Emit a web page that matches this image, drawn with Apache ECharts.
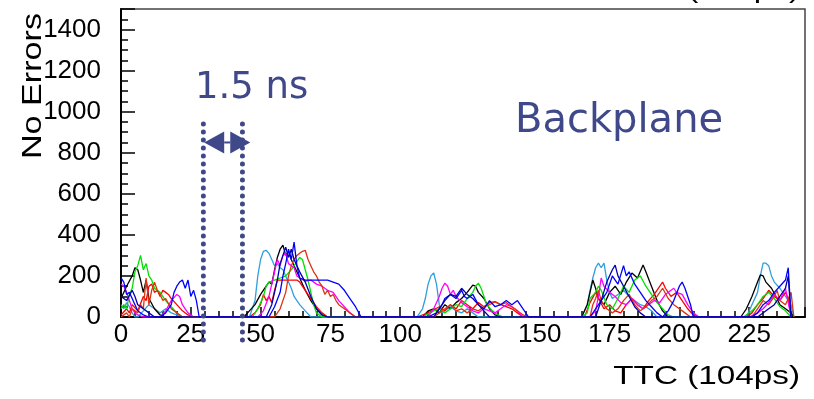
<!DOCTYPE html>
<html>
<head>
<meta charset="utf-8">
<script src="https://cdn.jsdelivr.net/npm/echarts@6/dist/echarts.min.js"></script>
<style>
  html, body { margin: 0; padding: 0; background: #fff; }
  #chart { width: 814px; height: 399px; }
</style>
</head>
<body>
<div id="chart"></div>
<script>
// TTC scan, number of errors per TTC step (104 ps), one curve per channel
const xTicks = [0, 25, 50, 75, 100, 125, 150, 175, 200, 225];
const yTicks = [0, 200, 400, 600, 800, 1000, 1200, 1400];

const runCyan = [[0,60],[1,40],[2,70],[3,50],[4,20],[5,0],[6,0],[8,30],[10,60],[12,40],[14,20],[16,40],[18,20],[20,10],[22,0],
  [46,0],[48,80],[49,200],[50,280],[51,320],[52,325],[53,310],[54,280],[55,250],[56,260],[57,240],[58,230],[59,200],[60,170],[61,140],[62,100],[63,80],[64,60],[66,30],[68,0],
  [106,0],[108,40],[109,90],[110,160],[111,200],[112,215],[113,160],[114,60],[115,20],[116,30],[118,50],[120,30],[122,20],[124,40],[126,20],[128,0],
  [165,0],[167,60],[168,130],[169,190],[170,240],[171,262],[172,240],[173,262],[174,180],[175,120],[176,90],[178,110],[180,130],[182,100],[184,80],[186,60],[188,50],[190,30],[192,0],
  [224,0],[226,60],[228,120],[229,200],[230,262],[231,262],[232,250],[233,200],[234,170],[236,140],[238,100],[240,60],[241,0]];

const runBlack = [[0,90],[2,150],[4,200],[5,240],[6,230],[7,180],[8,120],[9,180],[10,90],[12,40],[14,10],[16,0],
  [44,0],[46,30],[48,60],[50,110],[52,150],[53,170],[54,160],[55,230],[56,290],[57,330],[58,350],[59,300],[60,320],[61,280],[62,250],[63,220],[64,190],[66,130],[68,80],[70,40],[72,10],[74,0],
  [108,0],[110,30],[112,40],[114,20],[116,60],[118,40],[120,70],[122,90],[124,120],[126,155],[127,150],[128,120],[130,90],[132,40],[134,10],[136,0],
  [165,0],[167,60],[168,120],[169,180],[170,140],[171,90],[173,60],[175,120],[177,150],[179,110],[181,170],[183,214],[185,190],[187,253],[188,220],[190,150],[192,80],[194,30],[196,0],
  [222,0],[224,40],[226,100],[228,170],[229,205],[230,200],[231,170],[233,140],[235,90],[236,60],[238,40],[240,20],[241,0]];

const runRed = [[0,10],[2,40],[3,20],[4,60],[6,30],[8,100],[9,80],[10,150],[11,160],[12,120],[13,130],[14,100],[15,130],[16,120],[17,110],[18,90],[20,60],[22,30],[24,10],[26,0],
  [46,0],[48,20],[50,60],[51,110],[52,80],[53,100],[54,70],[55,130],[56,180],[58,180],[60,180],[62,180],[63,180],[64,170],[66,130],[68,90],[70,50],[72,20],[74,0],
  [106,0],[110,20],[114,50],[116,30],[118,60],[120,40],[122,80],[124,60],[126,40],[128,70],[130,50],[132,70],[134,75],[136,60],[138,50],[140,40],[142,20],[144,0],
  [166,0],[168,70],[170,120],[171,90],[173,40],[175,60],[177,30],[179,20],[181,60],[183,90],[185,60],[187,40],[189,80],[191,110],[193,150],[194,170],[195,140],[197,100],[199,120],[201,80],[203,40],[205,10],[207,0],
  [224,0],[226,20],[228,60],[230,90],[232,130],[234,100],[236,80],[238,120],[239,90],[240,0]];

const runGreen = [[0,40],[1,60],[2,40],[3,110],[4,140],[5,220],[6,250],[7,300],[8,230],[9,260],[10,200],[11,180],[12,140],[14,120],[16,80],[18,50],[20,20],[22,0],
  [47,0],[49,40],[51,100],[52,150],[53,170],[55,180],[57,190],[59,200],[61,230],[63,270],[64,290],[65,280],[66,230],[67,180],[68,120],[69,60],[70,20],[72,0],
  [108,0],[112,30],[114,40],[116,20],[118,40],[120,60],[122,50],[124,90],[126,120],[127,150],[128,165],[129,140],[130,100],[131,60],[133,30],[135,10],[137,0],
  [165,0],[167,20],[168,90],[170,120],[171,150],[172,130],[174,60],[176,40],[178,90],[180,150],[182,120],[184,180],[186,200],[188,150],[190,110],[192,70],[194,40],[196,10],[198,0],
  [223,0],[226,30],[228,60],[230,100],[232,120],[234,90],[236,50],[238,30],[240,0]];

const runMagenta = [[0,160],[1,150],[2,120],[3,80],[4,40],[5,20],[6,10],[8,0],[14,0],[16,30],[18,80],[20,110],[21,100],[22,60],[23,40],[24,20],[26,0],
  [49,0],[51,30],[53,100],[55,220],[56,280],[57,250],[58,300],[59,310],[60,260],[62,240],[63,200],[64,190],[66,175],[68,180],[70,160],[72,150],[74,130],[76,120],[78,80],[80,50],[82,20],[84,0],
  [110,0],[112,40],[114,100],[115,140],[116,165],[117,150],[118,110],[119,130],[120,100],[122,70],[124,50],[126,30],[128,20],[130,40],[132,30],[134,20],[136,40],[138,60],[140,50],[142,30],[144,0],
  [168,0],[170,30],[171,100],[172,190],[173,150],[175,120],[177,100],[179,70],[181,60],[183,90],[185,60],[187,40],[189,60],[191,80],[193,70],[195,110],[197,130],[198,140],[199,120],[201,110],[203,60],[205,20],[207,0],
  [225,0],[228,20],[230,40],[232,70],[234,110],[236,80],[238,140],[240,0]];

const runDarkRed = [[0,0],[2,20],[3,0],[4,40],[6,20],[7,60],[8,40],[9,190],[10,60],[11,130],[12,170],[13,130],[14,110],[15,80],[16,90],[18,40],[20,20],[22,0],
  [55,0],[57,40],[59,120],[60,200],[61,250],[62,280],[63,300],[64,310],[65,320],[66,325],[67,280],[68,250],[69,220],[70,200],[71,170],[72,150],[73,110],[74,130],[75,100],[76,110],[77,80],[78,60],[80,40],[82,20],[84,0],
  [112,0],[114,20],[116,40],[118,60],[120,30],[122,40],[124,20],[126,40],[128,30],[130,50],[132,60],[134,73],[136,60],[138,70],[140,50],[142,30],[144,10],[146,0],
  [168,0],[169,60],[170,90],[171,130],[172,80],[174,40],[176,20],[178,40],[180,80],[182,110],[184,60],[186,30],[188,50],[190,80],[192,100],[194,140],[196,90],[198,60],[200,40],[202,20],[204,0],
  [226,0],[228,40],[230,80],[232,60],[234,100],[235,130],[236,80],[238,60],[240,120],[241,0]];

const runBlue = [[0,190],[1,170],[2,110],[3,120],[4,90],[5,60],[6,30],[8,10],[10,0],[14,0],[16,20],[18,60],[19,120],[20,150],[21,170],[22,180],[23,140],[24,180],[25,100],[26,130],[27,80],[28,0],
  [53,0],[55,50],[57,120],[58,200],[59,260],[60,330],[61,280],[62,365],[63,250],[64,190],[66,180],[68,180],[70,180],[72,180],[74,180],[76,170],[78,160],[80,130],[82,90],[84,50],[86,0],
  [110,0],[113,20],[115,60],[116,90],[118,110],[120,90],[122,130],[123,100],[124,90],[126,110],[128,60],[130,40],[132,80],[134,50],[136,60],[138,80],[140,60],[142,80],[144,40],[146,0],
  [168,0],[170,40],[172,80],[174,120],[176,200],[177,180],[178,160],[180,250],[181,200],[182,220],[184,160],[186,120],[188,80],[190,50],[192,20],[194,0],[196,30],[198,80],[200,150],[201,170],[202,140],[203,100],[204,60],[205,0],
  [226,0],[228,20],[230,60],[232,80],[234,120],[236,150],[238,180],[239,240],[240,0]];

const runNavy = [[0,100],[2,80],[4,130],[5,100],[6,60],[8,40],[10,20],[12,0],
  [52,0],[54,60],[56,180],[57,260],[58,300],[59,340],[60,290],[61,330],[62,280],[64,220],[66,170],[68,100],[70,40],[72,10],[74,0],
  [112,0],[116,80],[118,110],[120,100],[122,140],[124,110],[126,90],[128,60],[130,30],[132,0],
  [170,0],[172,80],[174,170],[176,230],[177,253],[178,200],[180,150],[182,100],[184,50],[186,20],[188,0],
  [228,0],[232,40],[234,60],[236,100],[238,140],[239,200],[240,0]];

const runs = [runCyan, runBlack, runRed, runGreen, runMagenta, runDarkRed, runBlue, runNavy];
const runColors = ['#2ea0dc', '#000000', '#ff0000', '#00e000', '#ff00ff', '#dd3311', '#0000ff', '#0000b0'];

// 1.5 ns window markers (TTC steps)
const windowEdges = [29.5, 43.5];
const windowSpan = [-112, 957];
const arrowLevel = 850;
const arrowEnds = [29.8, 46.3];

const ink = '#3f4889';
const myChart = echarts.init(document.getElementById('chart'));

const dataSeries = runs.map((d, i) => ({
  type: 'line',
  data: d,
  showSymbol: false,
  symbol: 'none',
  animation: false,
  lineStyle: { width: 1.3, color: runColors[i] },
  z: 2
}));

const markerSeries = windowEdges.map(x => ({
  type: 'line',
  data: [[x, windowSpan[0]], [x, windowSpan[1]]],
  symbol: 'none',
  clip: false,
  animation: false,
  lineStyle: { width: 5, color: ink, type: [0, 8], cap: 'round' },
  z: 5
}));

myChart.setOption({
  animation: false,
  grid: { left: 121, right: 9, top: 9, bottom: 82, show: true, borderColor: '#444', borderWidth: 1.5 },
  xAxis: {
    type: 'value', min: 0, max: 245, interval: 25,
    axisLine: { lineStyle: { color: '#000', width: 2 } },
    axisTick: { inside: true, length: 10, lineStyle: { color: '#000', width: 1.5 } },
    minorTick: { show: true, splitNumber: 5, length: 6, lineStyle: { color: '#000', width: 1.5 } },
    splitLine: { show: false },
    axisLabel: {
      margin: 5, color: '#000', fontSize: 26, fontFamily: 'Liberation Sans',
      showMaxLabel: false,
      formatter: v => xTicks.includes(v) ? String(v) : ''
    }
  },
  yAxis: {
    type: 'value', min: 0, max: 1500, interval: 200,
    axisLine: { show: true, lineStyle: { color: '#000', width: 2 } },
    axisTick: { show: true, inside: true, length: 14, lineStyle: { color: '#000', width: 1.5 } },
    minorTick: { show: true, splitNumber: 4, length: 7, lineStyle: { color: '#000', width: 1.5 } },
    splitLine: { show: false },
    axisLabel: {
      margin: 20, color: '#000', fontSize: 26, fontFamily: 'Liberation Sans',
      showMaxLabel: false,
      formatter: v => yTicks.includes(v) ? String(v) : ''
    }
  },
  series: dataSeries.concat(markerSeries)
});

const pL = myChart.convertToPixel({ gridIndex: 0 }, [arrowEnds[0], arrowLevel]);
const pR = myChart.convertToPixel({ gridIndex: 0 }, [arrowEnds[1], arrowLevel]);
const head = 20, half = 11;
myChart.setOption({
  graphic: [
    { type: 'line', shape: { x1: pL[0] + head, y1: pL[1], x2: pR[0] - head, y2: pR[1] }, style: { stroke: ink, lineWidth: 2 }, z: 10 },
    { type: 'polygon', shape: { points: [[pL[0], pL[1]], [pL[0] + head, pL[1] - half], [pL[0] + head, pL[1] + half]] }, style: { fill: ink }, z: 10 },
    { type: 'polygon', shape: { points: [[pR[0], pR[1]], [pR[0] - head, pR[1] - half], [pR[0] - head, pR[1] + half]] }, style: { fill: ink }, z: 10 },
    { type: 'text', x: 195, y: 88, style: { text: '1.5 ns', fill: ink, font: '37px "DejaVu Sans"', textVerticalAlign: 'middle' }, z: 10 },
    { type: 'text', x: 515, y: 122, style: { text: 'Backplane', fill: ink, font: '40px "DejaVu Sans"', textVerticalAlign: 'middle' }, z: 10 },
    { type: 'text', x: 33, y: 86, rotation: Math.PI / 2, scaleX: 1.22, style: { text: 'No Errors', fill: '#000', font: '28px "Liberation Sans"', textAlign: 'center', textVerticalAlign: 'middle' } },
    { type: 'text', x: 800, y: 377, scaleX: 1.28, style: { text: 'TTC (104ps)', fill: '#000', font: '26px "Liberation Sans"', textAlign: 'right', textVerticalAlign: 'middle' } },
    { type: 'text', x: 800, y: -9, scaleX: 1.28, style: { text: 'TTC (104ps)', fill: '#000', font: '26px "Liberation Sans"', textAlign: 'right', textVerticalAlign: 'middle' } }
  ]
});
</script>
</body>
</html>
